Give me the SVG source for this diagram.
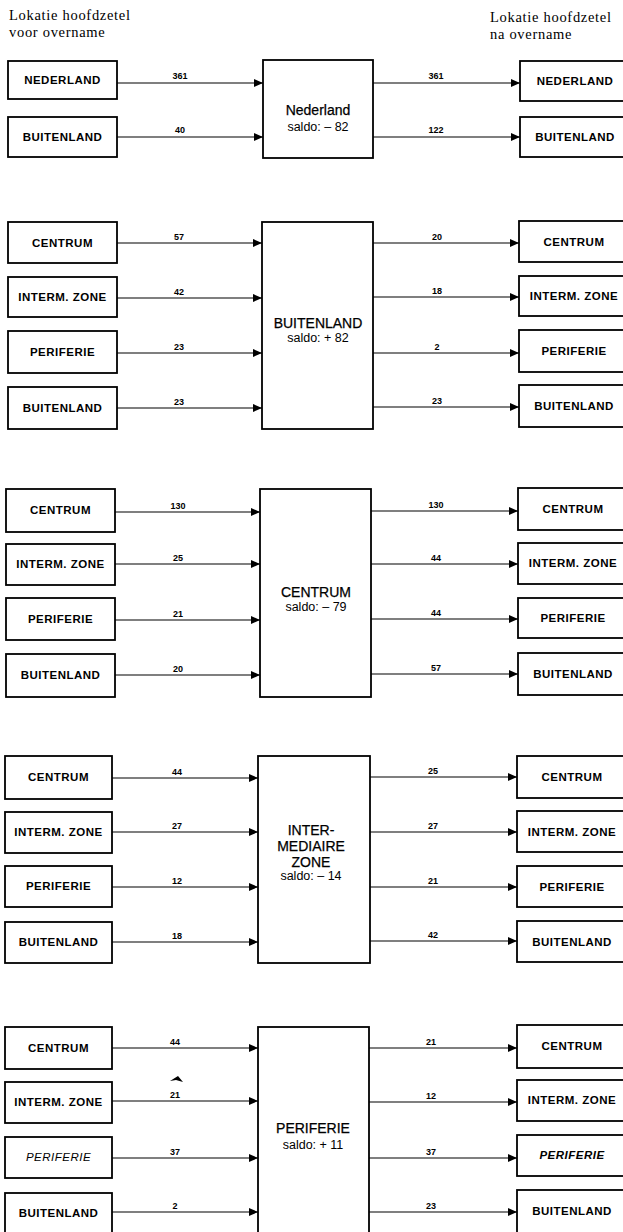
<svg xmlns="http://www.w3.org/2000/svg" width="623" height="1232" viewBox="0 0 623 1232">
<style>
.bx{fill:#fff;stroke:#000;stroke-width:1.8}
.lb{font-family:"Liberation Sans",Arial,sans-serif;font-weight:bold;font-size:11.5px;letter-spacing:0.5px;text-anchor:middle;fill:#000}
.it{font-style:italic}
.ct{font-family:"Liberation Sans",Arial,sans-serif;font-size:14px;text-anchor:middle;fill:#000;stroke:#000;stroke-width:0.25}
.sd{font-family:"Liberation Sans",Arial,sans-serif;font-size:12.5px;text-anchor:middle;fill:#000}
.hd{font-family:"Liberation Serif","Times New Roman",serif;font-size:14.5px;letter-spacing:0.7px;fill:#000}
.n{font-family:"Liberation Sans",Arial,sans-serif;font-weight:bold;font-size:9px;text-anchor:middle;fill:#000}
.cn{fill:none;stroke:#000;stroke-width:1.2;marker-end:url(#ah)}
</style>
<defs>
<marker id="ah" markerUnits="userSpaceOnUse" markerWidth="10" markerHeight="10" refX="9" refY="4" orient="auto"><path d="M0,0 L9,4 L0,8 z" fill="#000"/></marker>
</defs>
<rect width="623" height="1232" fill="#fff"/>
<g id="headers">
<text class="hd" x="9" y="20">Lokatie hoofdzetel</text>
<text class="hd" x="9" y="36.5">voor overname</text>
<text class="hd" x="490" y="22">Lokatie hoofdzetel</text>
<text class="hd" x="490" y="38.5">na overname</text>
</g>
<!-- Section 1 -->
<g id="s1-in-nederland"><rect class="bx" x="8" y="61" width="109" height="38"/><text class="lb" x="62.5" y="84">NEDERLAND</text></g>
<g id="s1-in-buitenland"><rect class="bx" x="8" y="117" width="109" height="40"/><text class="lb" x="62.5" y="141">BUITENLAND</text></g>
<g id="s1-center"><rect class="bx" x="263" y="60" width="110" height="98"/><text class="ct" x="318" y="115">Nederland</text><text class="sd" x="318" y="131">saldo: – 82</text></g>
<g id="s1-out-nederland"><rect class="bx" x="520" y="61" width="104" height="40"/><text class="lb" x="575" y="85">NEDERLAND</text></g>
<g id="s1-out-buitenland"><rect class="bx" x="520" y="117" width="104" height="40"/><text class="lb" x="575" y="141">BUITENLAND</text></g>
<!-- Section 2 -->
<g id="s2-in-centrum"><rect class="bx" x="8" y="222" width="109" height="41"/><text class="lb" x="62.5" y="247">CENTRUM</text></g>
<g id="s2-in-interm"><rect class="bx" x="8" y="277" width="109" height="40"/><text class="lb" x="62.5" y="301">INTERM. ZONE</text></g>
<g id="s2-in-periferie"><rect class="bx" x="8" y="331" width="109" height="42"/><text class="lb" x="62.5" y="356">PERIFERIE</text></g>
<g id="s2-in-buitenland"><rect class="bx" x="8" y="387" width="109" height="42"/><text class="lb" x="62.5" y="412">BUITENLAND</text></g>
<g id="s2-center"><rect class="bx" x="262" y="222" width="111" height="207"/><text class="ct" x="318" y="328">BUITENLAND</text><text class="sd" x="318" y="342">saldo: + 82</text></g>
<g id="s2-out-centrum"><rect class="bx" x="519" y="221" width="105" height="41"/><text class="lb" x="574" y="246">CENTRUM</text></g>
<g id="s2-out-interm"><rect class="bx" x="519" y="276" width="105" height="40"/><text class="lb" x="574" y="300">INTERM. ZONE</text></g>
<g id="s2-out-periferie"><rect class="bx" x="519" y="330" width="105" height="42"/><text class="lb" x="574" y="355">PERIFERIE</text></g>
<g id="s2-out-buitenland"><rect class="bx" x="519" y="385" width="105" height="42"/><text class="lb" x="574" y="410">BUITENLAND</text></g>
<!-- Section 3 -->
<g id="s3-in-centrum"><rect class="bx" x="6" y="489" width="109" height="43"/><text class="lb" x="60.5" y="514">CENTRUM</text></g>
<g id="s3-in-interm"><rect class="bx" x="6" y="544" width="109" height="41"/><text class="lb" x="60.5" y="568">INTERM. ZONE</text></g>
<g id="s3-in-periferie"><rect class="bx" x="6" y="598" width="109" height="42"/><text class="lb" x="60.5" y="623">PERIFERIE</text></g>
<g id="s3-in-buitenland"><rect class="bx" x="6" y="654" width="109" height="43"/><text class="lb" x="60.5" y="679">BUITENLAND</text></g>
<g id="s3-center"><rect class="bx" x="260" y="489" width="111" height="208"/><text class="ct" x="316" y="597">CENTRUM</text><text class="sd" x="316" y="611">saldo: – 79</text></g>
<g id="s3-out-centrum"><rect class="bx" x="518" y="488" width="106" height="42"/><text class="lb" x="573" y="513">CENTRUM</text></g>
<g id="s3-out-interm"><rect class="bx" x="518" y="543" width="106" height="41"/><text class="lb" x="573" y="567">INTERM. ZONE</text></g>
<g id="s3-out-periferie"><rect class="bx" x="518" y="598" width="106" height="40"/><text class="lb" x="573" y="622">PERIFERIE</text></g>
<g id="s3-out-buitenland"><rect class="bx" x="518" y="653" width="106" height="42"/><text class="lb" x="573" y="678">BUITENLAND</text></g>
<!-- Section 4 -->
<g id="s4-in-centrum"><rect class="bx" x="5" y="756" width="107" height="43"/><text class="lb" x="58.5" y="781">CENTRUM</text></g>
<g id="s4-in-interm"><rect class="bx" x="5" y="812" width="107" height="41"/><text class="lb" x="58.5" y="836">INTERM. ZONE</text></g>
<g id="s4-in-periferie"><rect class="bx" x="5" y="866" width="107" height="41"/><text class="lb" x="58.5" y="890">PERIFERIE</text></g>
<g id="s4-in-buitenland"><rect class="bx" x="5" y="922" width="107" height="41"/><text class="lb" x="58.5" y="946">BUITENLAND</text></g>
<g id="s4-center"><rect class="bx" x="258" y="756" width="112" height="207"/><text class="ct" x="311" y="835">INTER-</text><text class="ct" x="311" y="851">MEDIAIRE</text><text class="ct" x="311" y="867">ZONE</text><text class="sd" x="311" y="880">saldo: – 14</text></g>
<g id="s4-out-centrum"><rect class="bx" x="517" y="756" width="107" height="42"/><text class="lb" x="572" y="781">CENTRUM</text></g>
<g id="s4-out-interm"><rect class="bx" x="517" y="811" width="107" height="41"/><text class="lb" x="572" y="836">INTERM. ZONE</text></g>
<g id="s4-out-periferie"><rect class="bx" x="517" y="866" width="107" height="41"/><text class="lb" x="572" y="891">PERIFERIE</text></g>
<g id="s4-out-buitenland"><rect class="bx" x="517" y="921" width="107" height="41"/><text class="lb" x="572" y="946">BUITENLAND</text></g>
<!-- Section 5 -->
<g id="s5-in-centrum"><rect class="bx" x="5" y="1027" width="107" height="42"/><text class="lb" x="58.5" y="1052">CENTRUM</text></g>
<g id="s5-in-interm"><rect class="bx" x="5" y="1082" width="107" height="41"/><text class="lb" x="58.5" y="1106">INTERM. ZONE</text></g>
<g id="s5-in-periferie"><rect class="bx" x="5" y="1137" width="107" height="41"/><text class="lb it" x="58.5" y="1161" style="font-weight:normal">PERIFERIE</text></g>
<g id="s5-in-buitenland"><rect class="bx" x="5" y="1193" width="107" height="42"/><text class="lb" x="58.5" y="1217">BUITENLAND</text></g>
<g id="s5-center"><rect class="bx" x="258" y="1027" width="111" height="212"/><text class="ct" x="313" y="1133">PERIFERIE</text><text class="sd" x="313" y="1149">saldo: + 11</text></g>
<g id="s5-out-centrum"><rect class="bx" x="517" y="1025" width="107" height="43"/><text class="lb" x="572" y="1050">CENTRUM</text></g>
<g id="s5-out-interm"><rect class="bx" x="517" y="1080" width="107" height="41"/><text class="lb" x="572" y="1104">INTERM. ZONE</text></g>
<g id="s5-out-periferie"><rect class="bx" x="517" y="1135" width="107" height="41"/><text class="lb it" x="572" y="1159">PERIFERIE</text></g>
<g id="s5-out-buitenland"><rect class="bx" x="517" y="1190" width="107" height="46"/><text class="lb" x="572" y="1215">BUITENLAND</text></g>
<g id="connectors">
<path class="cn" d="M117,83 H263"/><path class="cn" d="M117,137 H263"/>
<path class="cn" d="M373,83 H520"/><path class="cn" d="M373,137 H520"/>
<path class="cn" d="M117,243 H262"/><path class="cn" d="M117,298 H262"/><path class="cn" d="M117,353 H262"/><path class="cn" d="M117,408 H262"/>
<path class="cn" d="M373,243 H519"/><path class="cn" d="M373,297 H519"/><path class="cn" d="M373,353 H519"/><path class="cn" d="M373,407 H519"/>
<path class="cn" d="M115,512 H260"/><path class="cn" d="M115,564 H260"/><path class="cn" d="M115,620 H260"/><path class="cn" d="M115,675 H260"/>
<path class="cn" d="M371,511 H518"/><path class="cn" d="M371,564 H518"/><path class="cn" d="M371,619 H518"/><path class="cn" d="M371,674 H518"/>
<path class="cn" d="M112,778 H258"/><path class="cn" d="M112,832 H258"/><path class="cn" d="M112,887 H258"/><path class="cn" d="M112,942 H258"/>
<path class="cn" d="M370,777 H517"/><path class="cn" d="M370,832 H517"/><path class="cn" d="M370,887 H517"/><path class="cn" d="M370,941 H517"/>
<path class="cn" d="M112,1048 H258"/><path class="cn" d="M112,1101 H258"/><path class="cn" d="M112,1158 H258"/><path class="cn" d="M112,1212 H258"/>
<path class="cn" d="M369,1048 H517"/><path class="cn" d="M369,1102 H517"/><path class="cn" d="M369,1158 H517"/><path class="cn" d="M369,1212 H517"/>
<polygon points="170,1081 178,1076 183,1082 176,1080" fill="#000"/>
</g>
<g id="flow-labels">
<text class="n" x="180" y="79">361</text><text class="n" x="180" y="133">40</text>
<text class="n" x="436" y="79">361</text><text class="n" x="436" y="133">122</text>
<text class="n" x="179" y="240">57</text><text class="n" x="179" y="295">42</text><text class="n" x="179" y="350">23</text><text class="n" x="179" y="405">23</text>
<text class="n" x="437" y="240">20</text><text class="n" x="437" y="294">18</text><text class="n" x="437" y="350">2</text><text class="n" x="437" y="404">23</text>
<text class="n" x="178" y="509">130</text><text class="n" x="178" y="561">25</text><text class="n" x="178" y="617">21</text><text class="n" x="178" y="672">20</text>
<text class="n" x="436" y="508">130</text><text class="n" x="436" y="561">44</text><text class="n" x="436" y="616">44</text><text class="n" x="436" y="671">57</text>
<text class="n" x="177" y="775">44</text><text class="n" x="177" y="829">27</text><text class="n" x="177" y="884">12</text><text class="n" x="177" y="939">18</text>
<text class="n" x="433" y="774">25</text><text class="n" x="433" y="829">27</text><text class="n" x="433" y="884">21</text><text class="n" x="433" y="938">42</text>
<text class="n" x="175" y="1045">44</text><text class="n" x="175" y="1098">21</text><text class="n" x="175" y="1155">37</text><text class="n" x="175" y="1209">2</text>
<text class="n" x="431" y="1045">21</text><text class="n" x="431" y="1099">12</text><text class="n" x="431" y="1155">37</text><text class="n" x="431" y="1209">23</text>
</g>
</svg>
